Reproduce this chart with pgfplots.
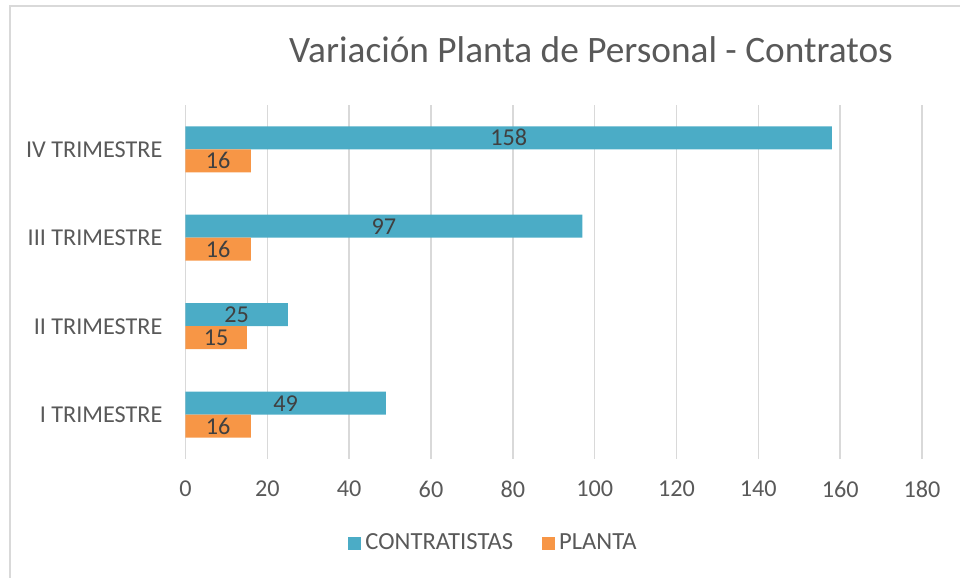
\documentclass[border=0pt]{standalone}
\usepackage{pgfplots}
\pgfplotsset{compat=1.18}
\usepackage{fontspec}
\setmainfont{Carlito}
\definecolor{teal}{HTML}{4BACC6}
\definecolor{orng}{HTML}{F79646}
\definecolor{gridgray}{HTML}{D9D9D9}
\definecolor{txtgray}{HTML}{595959}
\definecolor{lblgray}{HTML}{404040}
\begin{document}
\begin{tikzpicture}
\path[use as bounding box] (0,0) rectangle (480pt,289pt);
\draw[gridgray, line width=0.75pt] (5pt,0) -- (5pt,286pt) -- (481pt,286pt);
\begin{axis}[
  at={(92.75pt,59.5pt)}, anchor=south west,
  scale only axis, width=368.25pt, height=177pt,
  xbar, bar width=11.5pt,
  xmin=0, xmax=180, ymin=-0.5, ymax=3.5,
  xtick={0,20,...,180},
  ytick={0,1,2,3},
  yticklabels={I TRIMESTRE, II TRIMESTRE, III TRIMESTRE, IV TRIMESTRE},
  axis line style={draw=none},
  tick style={draw=none}, major tick length=0pt,
  xmajorgrids, grid style={draw=gridgray, line width=0.75pt},
  /pgf/number format/assume math mode=true,
  ticklabel style={font=\fontsize{12.1}{14}\selectfont, text=txtgray},
  xticklabel style={anchor=north, yshift=-7.3pt},
  yticklabel style={anchor=east, xshift=-8pt},
  legend style={at={(0.4196,-0.2373)}, anchor=center, draw=none, fill=none,
    legend columns=2, font=\fontsize{12.3}{14}\selectfont, text=txtgray,
    /tikz/every even column/.append style={column sep=12.5pt}},
  legend image code/.code={\fill[#1] (0pt,-3.25pt) rectangle (6.5pt,3.25pt);},
  legend cell align=left,
  visualization depends on={x \as \rawx},
  nodes near coords,
  every node near coord/.append style={anchor=center, font=\fontsize{12.1}{14}\selectfont, text=lblgray, xshift={-\rawx*1.0229167pt}},
]
\addplot[fill=teal, draw=none, bar shift=5.75pt] coordinates {(49,0) (25,1) (97,2) (158,3)};
\addplot[fill=orng, draw=none, bar shift=-5.75pt] coordinates {(16,0) (15,1) (16,2) (16,3)};
\legend{CONTRATISTAS, PLANTA}
\end{axis}
\node[font=\fontsize{18.65}{22}\selectfont, text=txtgray] at (295.5pt,264pt) {Variación Planta de Personal - Contratos};
\end{tikzpicture}
\end{document}
